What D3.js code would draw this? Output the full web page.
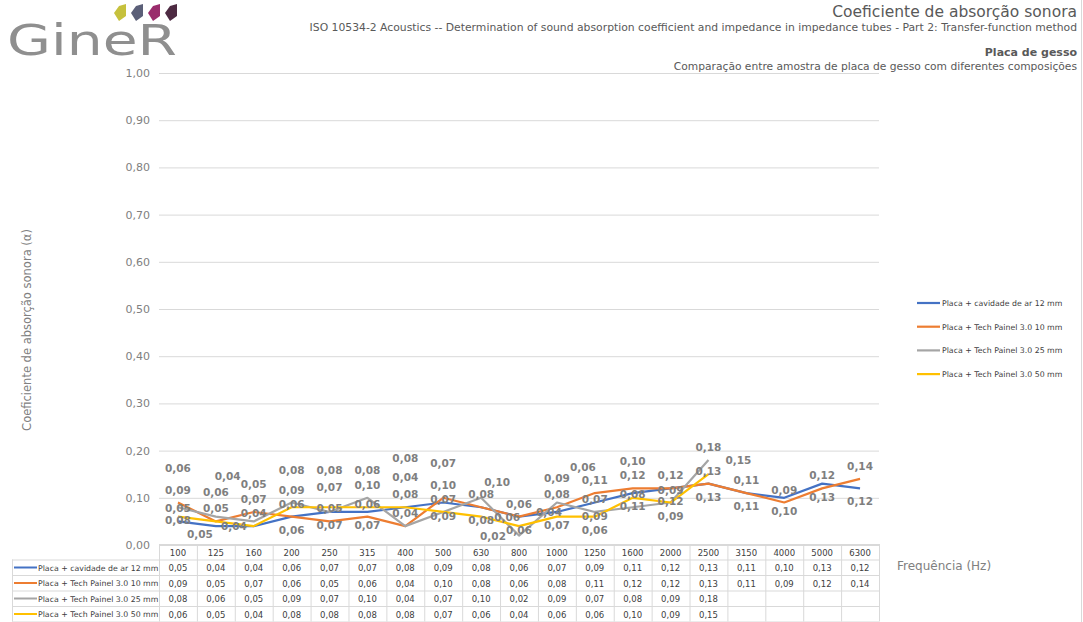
<!DOCTYPE html>
<html lang="pt">
<head>
<meta charset="utf-8">
<title>Coeficiente de absorção sonora</title>
<script src="https://d3js.org/d3.v7.min.js"></script>
<style>
    body { margin: 0; background: #fff; }
    svg text { font-family: "DejaVu Sans", Verdana, sans-serif; }
</style>
</head>
<body>
<div id="chart1"></div>
<script>

// frequencies (Hz)
const freqs = ["100","125","160","200","250","315","400","500","630","800","1000","1250","1600","2000","2500","3150","4000","5000","6300"]

const seriesNames = [
    "Placa + cavidade de ar 12 mm",
    "Placa + Tech Painel 3.0 10 mm",
    "Placa + Tech Painel 3.0 25 mm",
    "Placa + Tech Painel 3.0 50 mm"
]

const cavidade12 = [0.05,0.04,0.04,0.06,0.07,0.07,0.08,0.09,0.08,0.06,0.07,0.09,0.11,0.12,0.13,0.11,0.10,0.13,0.12]
const tech10     = [0.09,0.05,0.07,0.06,0.05,0.06,0.04,0.10,0.08,0.06,0.08,0.11,0.12,0.12,0.13,0.11,0.09,0.12,0.14]
const tech25     = [0.08,0.06,0.05,0.09,0.07,0.10,0.04,0.07,0.10,0.02,0.09,0.07,0.08,0.09,0.18,null,null,null,null]
const tech50     = [0.06,0.05,0.04,0.08,0.08,0.08,0.08,0.07,0.06,0.04,0.06,0.06,0.10,0.09,0.15,null,null,null,null]

const yTicks = [0,0.1,0.2,0.3,0.4,0.5,0.6,0.7,0.8,0.9,1.0]

const chartApp = {}

chartApp.fmt = v => v.toFixed(2).replace(".", ",")

chartApp.buildChart = () => {

    const W = 1083, H = 622
    const colors = ["#4472c4", "#ed7d31", "#a5a5a5", "#ffc000"]
    const allSeries = [cavidade12, tech10, tech25, tech50]

    const svg = d3.select("#chart1").append("svg")
        .attr("width", W).attr("height", H)

    svg.append("line")
        .attr("x1", W - 1.5).attr("x2", W - 1.5).attr("y1", 0).attr("y2", H)
        .attr("stroke", "#d9d9d9")

    //////////
    // LOGO //
    //////////
    const logo = svg.append("g")
    logo.append("text")
        .attr("x", 7).attr("y", 55)
        .attr("font-family", "'Open Sans', sans-serif")
        .attr("font-size", 42)
        .attr("textLength", 170).attr("lengthAdjust", "spacingAndGlyphs")
        .attr("fill", "#8f8f8f")
        .text("GineR")
    const gems = ["#c6c13d", "#5b5f78", "#9a2c6c", "#4d2a42"]
    gems.forEach((c, i) => {
        const gx = 114 + i * 17
        logo.append("path")
            .attr("d", `M${gx},13 L${gx + 5},6 L${gx + 12},4 L${gx + 12},16 L${gx + 5},21 Z`)
            .attr("fill", c)
    })

    //////////
    // TITLES //
    //////////
    svg.append("text").attr("x", 1077).attr("y", 17).attr("text-anchor", "end")
        .attr("font-family", "'Open Sans', sans-serif")
        .attr("font-size", 15.5).attr("fill", "#595959")
        .text("Coeficiente de absorção sonora")
    svg.append("text").attr("x", 1077).attr("y", 31).attr("text-anchor", "end")
        .attr("font-size", 10.8).attr("fill", "#595959")
        .text("ISO 10534-2 Acoustics -- Determination of sound absorption coefficient and impedance in impedance tubes - Part 2: Transfer-function method")
    svg.append("text").attr("x", 1077).attr("y", 56).attr("text-anchor", "end")
        .attr("font-size", 11).attr("font-weight", "bold").attr("fill", "#595959")
        .text("Placa de gesso")
    svg.append("text").attr("x", 1077).attr("y", 70).attr("text-anchor", "end")
        .attr("font-size", 10.7).attr("fill", "#595959")
        .text("Comparação entre amostra de placa de gesso com diferentes composições")

    //////////
    // AXIS //
    //////////
    const x = d3.scaleBand().domain(freqs).range([159, 879])
    const cx = f => x(f) + x.bandwidth() / 2
    const y = d3.scaleLinear().domain([0, 1]).range([545, 73])

    svg.append("g").selectAll("line").data(yTicks).join("line")
        .attr("x1", 159).attr("x2", 879)
        .attr("y1", d => y(d) + 0.5).attr("y2", d => y(d) + 0.5)
        .attr("stroke", "#d9d9d9")

    svg.append("g").selectAll("text").data(yTicks).join("text")
        .attr("x", 150).attr("y", d => y(d) + 4)
        .attr("text-anchor", "end")
        .attr("font-size", 11).attr("fill", "#808080")
        .text(d => chartApp.fmt(d))

    svg.append("text")
        .attr("transform", "translate(31,330) rotate(-90)")
        .attr("text-anchor", "middle")
        .attr("font-family", "'Open Sans', sans-serif")
        .attr("font-size", 11.5).attr("fill", "#808080")
        .text("Coeficiente de absorção sonora (α)")

    svg.append("text").attr("x", 897).attr("y", 570)
        .attr("font-family", "'Open Sans', sans-serif")
        .attr("font-size", 12).attr("fill", "#808080")
        .text("Frequência (Hz)")

    //////////
    // LINES //
    //////////
    const line = d3.line()
        .defined(d => d.v != null)
        .x(d => cx(d.f))
        .y(d => y(d.v))

    allSeries.forEach((vals, s) => {
        const pts = vals.map((v, i) => ({ f: freqs[i], v: v }))
        svg.append("path")
            .datum(pts)
            .attr("fill", "none")
            .attr("stroke", colors[s])
            .attr("stroke-width", 2.2)
            .attr("stroke-linejoin", "round")
            .attr("d", line)
    })

    //////////
    // DATA LABELS //
    //////////
    // try a few spots around each point, keep the first one that is free
    const spots = [[0, -9], [0, 17], [18, 4], [-18, 4], [16, -12], [16, 17], [-16, -12], [-16, 17],
                   [0, -21], [22, -22], [-22, -22], [26, 4], [-26, 4], [0, -33], [22, -34], [-22, -34],
                   [30, -10], [-30, -10], [0, -45], [26, -46], [-26, -46], [0, -57]]
    const placed = []
    const bw = 26, bh = 11.5
    const free = (a) => a.y <= 540 && a.x > 165 && !placed.some(b => Math.abs(a.x - b.x) < bw && Math.abs(a.y - b.y) < bh)
    const order = [1, 0, 2, 3]
    const labels = svg.append("g")
    order.forEach(s => {
        allSeries[s].forEach((v, i) => {
            if (v == null) return
            const px = cx(freqs[i]), py = y(v)
            let pos = null
            for (const sp of spots) {
                const c = { x: px + sp[0], y: py + sp[1] }
                if (free(c)) { pos = c; break }
            }
            if (!pos) pos = { x: px, y: py - 9 }
            placed.push(pos)
            labels.append("text")
                .attr("x", pos.x).attr("y", pos.y)
                .attr("text-anchor", "middle")
                .attr("font-size", 10.5).attr("font-weight", "bold")
                .attr("fill", "#7f7f7f")
                .text(chartApp.fmt(v))
        })
    })

    //////////
    // LEGEND //
    //////////
    const legend = svg.append("g")
    seriesNames.forEach((n, i) => {
        const ly = 303 + i * 23.7
        legend.append("line").attr("x1", 917).attr("x2", 940)
            .attr("y1", ly).attr("y2", ly)
            .attr("stroke", colors[i]).attr("stroke-width", 2.2)
        legend.append("text").attr("x", 942).attr("y", ly + 3)
            .attr("font-family", "'Open Sans', sans-serif")
            .attr("font-size", 7.8).attr("fill", "#404040")
            .text(n)
    })

    //////////
    // TABLE //
    //////////
    const rowH = 15.5, top = 544, left = 12
    const tbl = svg.append("g")
    const gridC = "#d9d9d9"

    // horizontal lines
    d3.range(6).forEach(r => {
        tbl.append("line")
            .attr("x1", r === 0 ? 159 : left).attr("x2", 879)
            .attr("y1", top + r * rowH + 0.5).attr("y2", top + r * rowH + 0.5)
            .attr("stroke", gridC)
    })
    // vertical lines
    tbl.append("line").attr("x1", left + 0.5).attr("x2", left + 0.5)
        .attr("y1", top + rowH).attr("y2", top + 5 * rowH).attr("stroke", gridC)
    freqs.forEach(f => {
        tbl.append("line").attr("x1", x(f) + 0.5).attr("x2", x(f) + 0.5)
            .attr("y1", top).attr("y2", top + 5 * rowH).attr("stroke", gridC)
    })
    tbl.append("line").attr("x1", 879.5).attr("x2", 879.5)
        .attr("y1", top).attr("y2", top + 5 * rowH).attr("stroke", gridC)

    tbl.selectAll(".hdr").data(freqs).join("text")
        .attr("x", d => cx(d)).attr("y", top + 11.5)
        .attr("text-anchor", "middle")
        .attr("font-family", "'Open Sans', sans-serif")
        .attr("font-size", 8.5).attr("fill", "#404040")
        .text(d => d)

    allSeries.forEach((vals, s) => {
        const ry = top + (s + 1) * rowH
        tbl.append("line").attr("x1", 14).attr("x2", 37)
            .attr("y1", ry + 8).attr("y2", ry + 8)
            .attr("stroke", colors[s]).attr("stroke-width", 2)
        tbl.append("text").attr("x", 38).attr("y", ry + 11)
            .attr("font-family", "'Open Sans', sans-serif")
            .attr("font-size", 7.8).attr("fill", "#404040")
            .text(seriesNames[s])
        vals.forEach((v, i) => {
            if (v == null) return
            tbl.append("text").attr("x", cx(freqs[i])).attr("y", ry + 11.5)
                .attr("text-anchor", "middle")
                .attr("font-family", "'Open Sans', sans-serif")
                .attr("font-size", 8.5).attr("fill", "#404040")
                .text(chartApp.fmt(v))
        })
    })
}

chartApp.buildChart()

</script>
</body>
</html>
